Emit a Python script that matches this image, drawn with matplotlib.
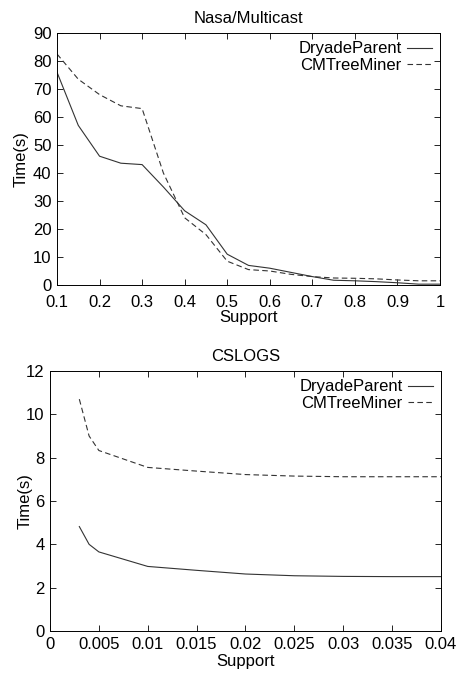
import matplotlib
matplotlib.use("Agg")
from matplotlib import pyplot as plt

plt.rcParams["font.family"] = ["Liberation Sans", "DejaVu Sans"]

# Nasa/Multicast dataset
nasa_support = [0.1, 0.15, 0.2, 0.25, 0.3, 0.35, 0.4, 0.45, 0.5, 0.55,
                0.6, 0.65, 0.7, 0.75, 0.8, 0.85, 0.9, 0.95, 1.0]
nasa_dryade = [76, 57, 46, 43.5, 43, 35, 26.5, 21.5, 11, 7,
               6, 4.5, 3, 1.7, 1.5, 1.2, 0.8, 0.3, 0.3]
nasa_cmtree = [82.5, 73.5, 68, 64, 63, 40, 24, 18, 8.5, 5.5,
               5, 3.8, 3, 2.5, 2.4, 2.2, 1.8, 1.5, 1.5]

# CSLOGS dataset
cslogs_support = [0.003, 0.004, 0.005, 0.01, 0.015, 0.02, 0.025, 0.03, 0.035, 0.04]
cslogs_dryade = [4.82, 4.0, 3.65, 2.98, 2.8, 2.63, 2.55, 2.52, 2.51, 2.51]
cslogs_cmtree = [10.7, 9.0, 8.33, 7.55, 7.38, 7.22, 7.15, 7.12, 7.12, 7.12]

nasa_xticks = [0.1, 0.2, 0.3, 0.4, 0.5, 0.6, 0.7, 0.8, 0.9, 1]
nasa_xlabels = ["0.1", "0.2", "0.3", "0.4", "0.5", "0.6", "0.7", "0.8", "0.9", "1"]
cslogs_xticks = [0, 0.005, 0.01, 0.015, 0.02, 0.025, 0.03, 0.035, 0.04]
cslogs_xlabels = ["0", "0.005", "0.01", "0.015", "0.02", "0.025", "0.03", "0.035", "0.04"]

fig = plt.figure(figsize=(4.66, 6.73), dpi=100)
W, H = 466, 673
ax1 = fig.add_axes([57 / W, 1 - 285 / H, (440 - 57) / W, (285 - 33) / H])
ax2 = fig.add_axes([50 / W, 1 - 631 / H, (441 - 50) / W, (631 - 371) / H])


def style(ax, title, ylabel_x, xpad, xlabelpad):
    ax.set_title(title, fontsize=12, pad=7)
    ax.set_xlabel("Support", fontsize=12, labelpad=xlabelpad)
    ax.set_ylabel("Time(s)", fontsize=12)
    ax.yaxis.set_label_coords(ylabel_x, 0.5)
    ax.tick_params(direction="in", top=True, right=True, labelsize=12,
                   length=4, width=0.6)
    ax.tick_params(axis="x", pad=xpad)
    ax.tick_params(axis="y", pad=4)
    for s in ax.spines.values():
        s.set_linewidth(0.7)
    ax.legend(loc="upper right", frameon=False, markerfirst=False,
              fontsize=12, handlelength=1.5, labelspacing=0.1,
              borderaxespad=0.3, borderpad=0.2, handletextpad=0.3)


line_kw = dict(color="#333333", linewidth=0.8)

ax1.plot(nasa_support, nasa_dryade, linestyle="-", label="DryadeParent", **line_kw)
ax1.plot(nasa_support, nasa_cmtree, linestyle=(0, (5, 3)), label="CMTreeMiner", **line_kw)
ax1.set_xlim(0.1, 1)
ax1.set_ylim(0, 90)
ax1.set_xticks(nasa_xticks)
ax1.set_xticklabels(nasa_xlabels)
ax1.set_yticks(range(0, 91, 10))
style(ax1, "Nasa/Multicast", -0.075, 7, 0)

ax2.plot(cslogs_support, cslogs_dryade, linestyle="-", label="DryadeParent", **line_kw)
ax2.plot(cslogs_support, cslogs_cmtree, linestyle=(0, (5, 3)), label="CMTreeMiner", **line_kw)
ax2.set_xlim(0, 0.04)
ax2.set_ylim(0, 12)
ax2.set_xticks(cslogs_xticks)
ax2.set_xticklabels(cslogs_xlabels)
ax2.set_yticks(range(0, 13, 2))
style(ax2, "CSLOGS", -0.045, 4, 2)

fig.savefig("out.png", dpi=100)
